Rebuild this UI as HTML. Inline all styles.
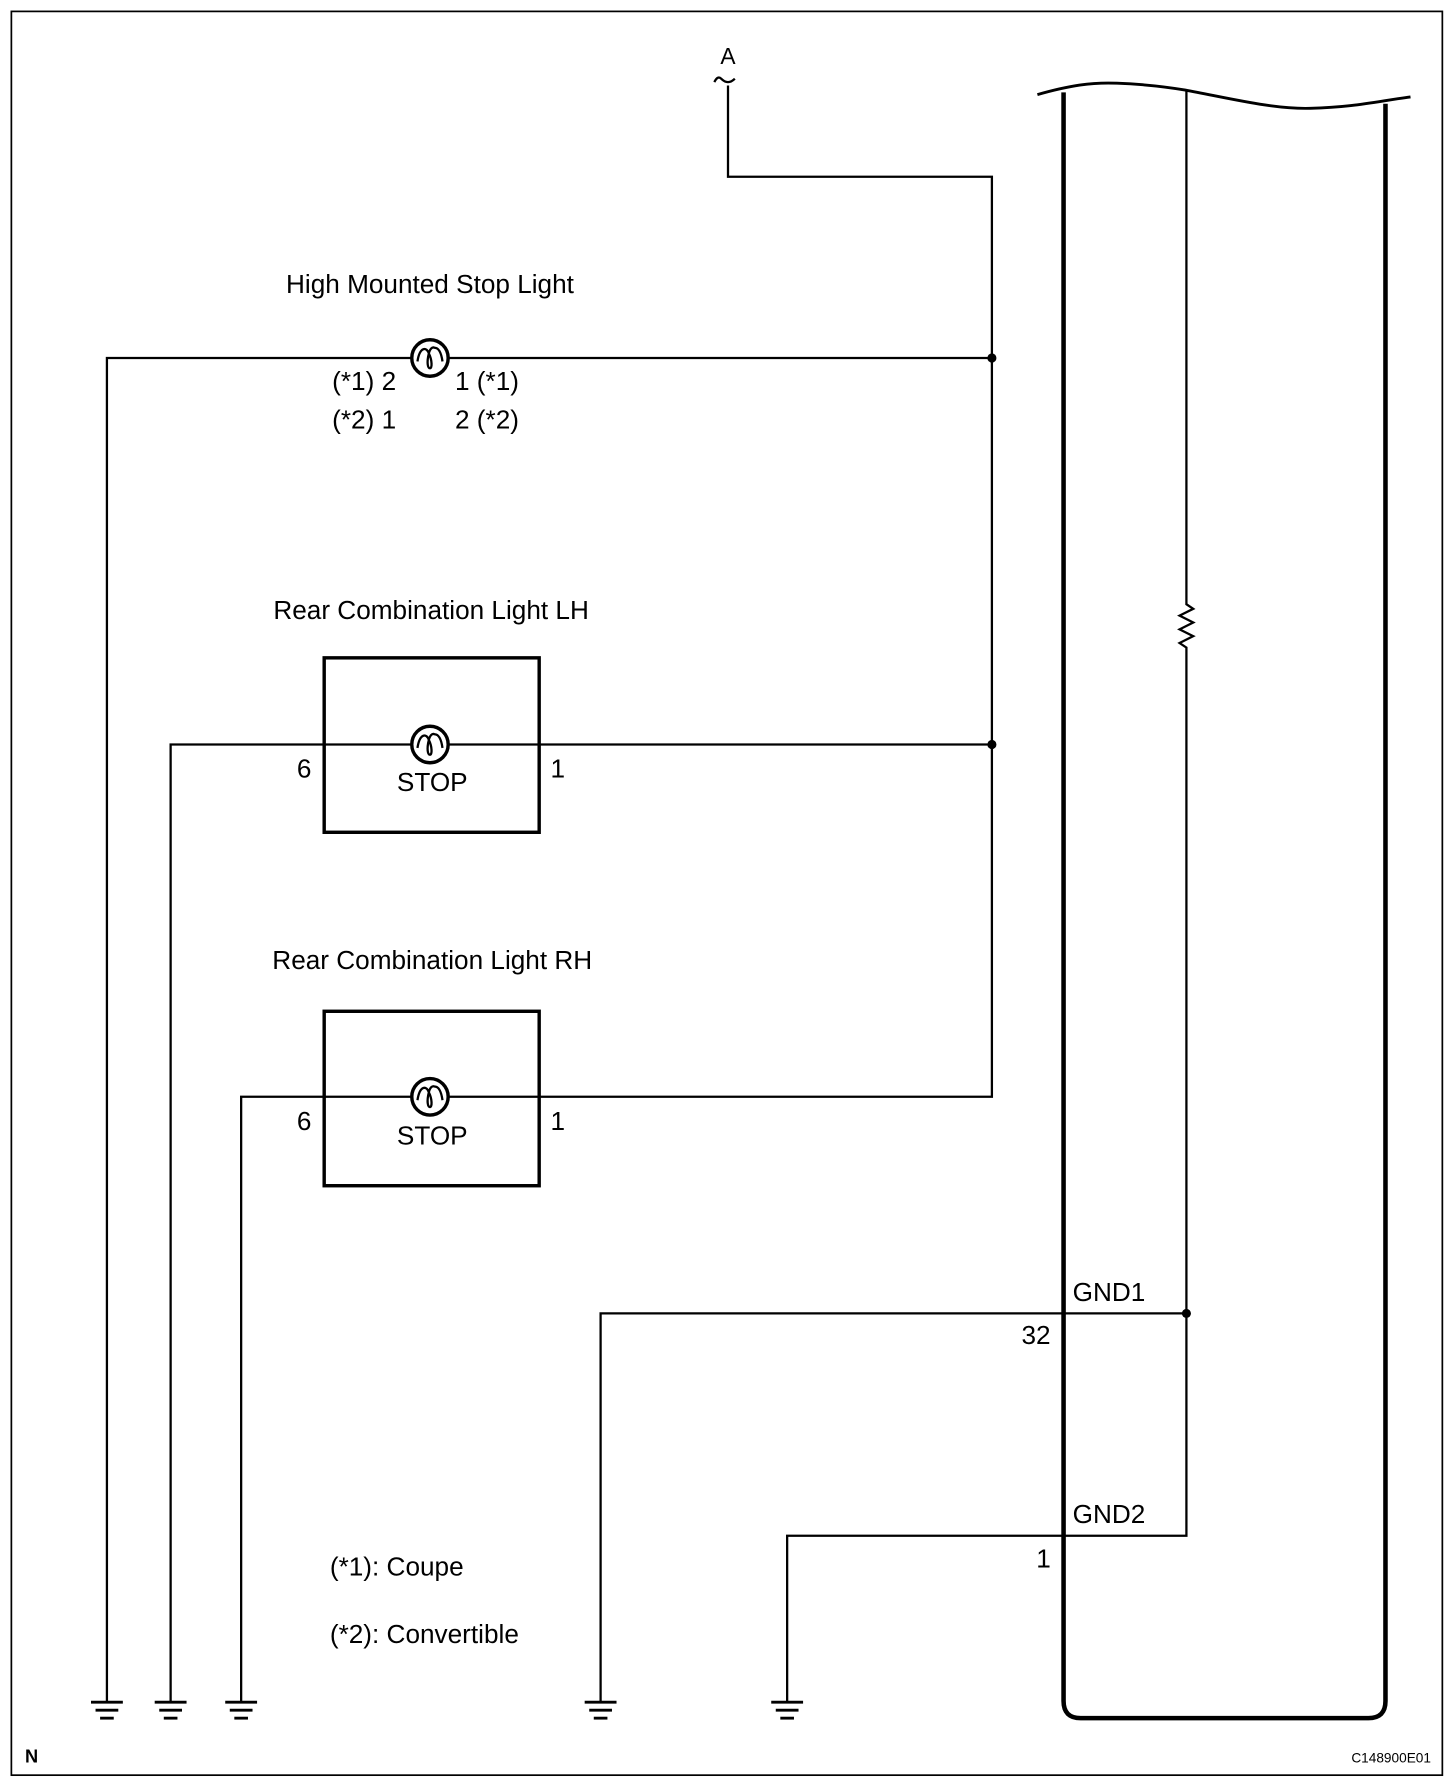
<!DOCTYPE html>
<html><head><meta charset="utf-8"><style>
html,body{margin:0;padding:0;background:#fff}
svg{display:block}
text{font-family:"Liberation Sans",Arial,sans-serif;fill:#000}
</style></head><body>
<svg width="1456" height="1782" viewBox="0 0 1280 1563" preserveAspectRatio="none" xmlns="http://www.w3.org/2000/svg">
<defs>
<g id="bulb"><circle cx="0" cy="0" r="16" fill="#fff" stroke="#000" stroke-width="3"/>
<path d="M-11,3 C-9,-10 -3,-10 -1,-4 C0,-8 2,-10 4,-9 C8,-9 10,-4 11,3 M-1,-4 C-3,4 -2,9 0,9 C2,9 2,2 -1,-4" fill="none" stroke="#000" stroke-width="2"/></g>
<g id="gnd"><line x1="-14" y1="0" x2="14" y2="0" stroke="#000" stroke-width="2.5"/><line x1="-10" y1="7" x2="10" y2="7" stroke="#000" stroke-width="2.5"/><line x1="-6" y1="14" x2="6" y2="14" stroke="#000" stroke-width="2.5"/></g>
</defs>
<rect x="10" y="10" width="1258" height="1547" fill="none" stroke="#000" stroke-width="1.5"/>
<g stroke="#000" stroke-width="2" fill="none">
<path d="M640,75 V155 H872 V962 H212 V1493"/>
<path d="M94,1493 V314 H872"/>
<path d="M150,1493 V653 H872"/>
<path d="M1043,80 V530 l6,4 -12,6 12,6 -12,6 12,6 -12,6 6,4 V1347 H692 V1493"/>
<path d="M528,1493 V1152 H1043"/>
<path d="M628,72 q3,-6 6,-3 q3,3 6,3 q3,0 6,-3" />
</g>
<path d="M912,83 C940,75 960,72 982,73 C1010,74 1030,77 1042,79 C1080,86 1120,96 1152,95 C1190,94 1210,89 1240,85" fill="none" stroke="#000" stroke-width="2.5"/>
<path d="M935,81 V1492 Q935,1507 950,1507 H1203 Q1218,1507 1218,1492 V91" fill="none" stroke="#000" stroke-width="4"/>
<rect x="285" y="577" width="189" height="153" fill="none" stroke="#000" stroke-width="3"/>
<rect x="285" y="887" width="189" height="153" fill="none" stroke="#000" stroke-width="3"/>
<use href="#bulb" x="378" y="314"/>
<use href="#bulb" x="378" y="653"/>
<use href="#bulb" x="378" y="962"/>
<circle cx="872" cy="314" r="4"/><circle cx="872" cy="653" r="4"/><circle cx="1043" cy="1152" r="4"/>
<use href="#gnd" x="94" y="1493"/><use href="#gnd" x="150" y="1493"/><use href="#gnd" x="212" y="1493"/>
<use href="#gnd" x="528" y="1493"/><use href="#gnd" x="692" y="1493"/>
<g font-size="23">
<text x="640" y="56" text-anchor="middle" font-size="20">A</text>
<text x="378" y="257" text-anchor="middle">High Mounted Stop Light</text>
<text x="292" y="342">(*1) 2</text><text x="400" y="342">1 (*1)</text>
<text x="292" y="376">(*2) 1</text><text x="400" y="376">2 (*2)</text>
<text x="379" y="543" text-anchor="middle">Rear Combination Light LH</text>
<text x="380" y="850" text-anchor="middle">Rear Combination Light RH</text>
<text x="261" y="682">6</text><text x="484" y="682">1</text>
<text x="380" y="694" text-anchor="middle">STOP</text>
<text x="261" y="991">6</text><text x="484" y="991">1</text>
<text x="380" y="1004" text-anchor="middle">STOP</text>
<text x="943" y="1141">GND1</text><text x="898" y="1179">32</text>
<text x="943" y="1336">GND2</text><text x="911" y="1375">1</text>
<text x="290" y="1382">(*1): Coupe</text>
<text x="290" y="1441">(*2): Convertible</text>
<text x="22" y="1546" font-size="16" font-weight="bold">N</text>
<text x="1258" y="1546" font-size="12" text-anchor="end">C148900E01</text>
</g>
</svg>
</body></html>
